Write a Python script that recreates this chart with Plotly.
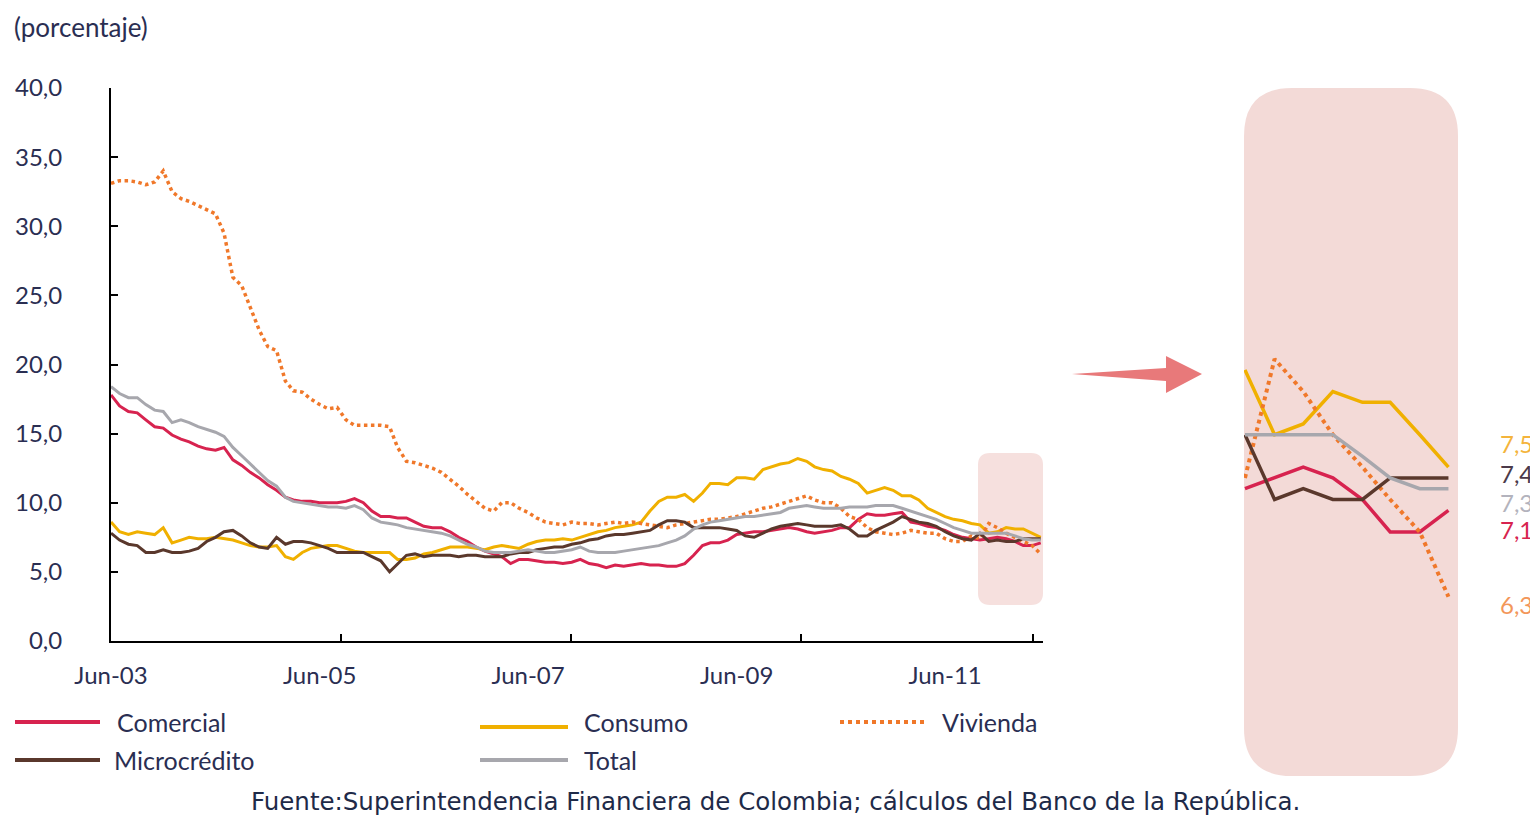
import pandas as pd
import plotly.graph_objects as go

# page body has an 8px margin: the figure is drawn from (8, 8)
OFF = 8
W, H = 1538 - OFF, 816 - OFF

# ---------------- data ----------------
dates = pd.date_range("2003-06-01", periods=108, freq="MS")
tick_dates = ["2003-06-01", "2005-06-01", "2007-06-01", "2009-06-01", "2011-06-01"]
tick_labels = ["Jun-03", "Jun-05", "Jun-07", "Jun-09", "Jun-11"]
tick_mark_dates = ["2005-08-15", "2007-10-29", "2010-01-12", "2012-04-04"]
y_ticks = [0, 5, 10, 15, 20, 25, 30, 35, 40]
y_tick_labels = ["0,0", "5,0", "10,0", "15,0", "20,0", "25,0", "30,0", "35,0", "40,0"]

comercial = [
    17.8, 17.0, 16.6, 16.5, 16.0, 15.5, 15.4, 14.9, 14.6, 14.4,
    14.1, 13.9, 13.8, 14.0, 13.1, 12.7, 12.2, 11.8, 11.3, 10.9,
    10.4, 10.2, 10.1, 10.1, 10.0, 10.0, 10.0, 10.1, 10.3, 10.0,
    9.4, 9.0, 9.0, 8.9, 8.9, 8.6, 8.3, 8.2, 8.2, 7.9,
    7.5, 7.2, 6.8, 6.5, 6.3, 6.1, 5.6, 5.9, 5.9, 5.8,
    5.7, 5.7, 5.6, 5.7, 5.9, 5.6, 5.5, 5.3, 5.5, 5.4,
    5.5, 5.6, 5.5, 5.5, 5.4, 5.4, 5.6, 6.2, 6.9, 7.1,
    7.1, 7.3, 7.7, 7.8, 7.9, 7.9, 8.0, 8.1, 8.2, 8.1,
    7.9, 7.8, 7.9, 8.0, 8.2, 8.2, 8.8, 9.2, 9.1, 9.1,
    9.2, 9.3, 8.6, 8.5, 8.3, 8.2, 8.0, 7.7, 7.5, 7.4,
    7.3, 7.4, 7.5, 7.4, 7.2, 6.9, 6.9, 7.1,
]
consumo = [
    8.6, 7.9, 7.7, 7.9, 7.8, 7.7, 8.2, 7.1, 7.3, 7.5,
    7.4, 7.4, 7.5, 7.4, 7.3, 7.1, 6.9, 6.8, 6.8, 6.9,
    6.1, 5.9, 6.4, 6.7, 6.8, 6.9, 6.9, 6.7, 6.5, 6.4,
    6.4, 6.4, 6.4, 5.9, 5.9, 6.0, 6.3, 6.4, 6.6, 6.8,
    6.8, 6.8, 6.7, 6.6, 6.8, 6.9, 6.8, 6.7, 7.0, 7.2,
    7.3, 7.3, 7.4, 7.3, 7.5, 7.7, 7.9, 8.0, 8.2, 8.3,
    8.4, 8.6, 9.4, 10.1, 10.4, 10.4, 10.6, 10.1, 10.7, 11.4,
    11.4, 11.3, 11.8, 11.8, 11.7, 12.4, 12.6, 12.8, 12.9, 13.2,
    13.0, 12.6, 12.4, 12.3, 11.9, 11.7, 11.4, 10.7, 10.9, 11.1,
    10.9, 10.5, 10.5, 10.2, 9.6, 9.3, 9.0, 8.8, 8.7, 8.5,
    8.4, 7.8, 7.9, 8.2, 8.1, 8.1, 7.8, 7.5,
]
vivienda = [
    33.1, 33.3, 33.3, 33.2, 33.0, 33.2, 34.0, 32.5, 32.0, 31.8,
    31.5, 31.2, 30.9, 29.5, 26.3, 25.7, 24.2, 22.5, 21.3, 21.0,
    18.8, 18.1, 18.0, 17.5, 17.1, 16.8, 16.9, 16.0, 15.6, 15.6,
    15.6, 15.6, 15.5, 14.0, 13.0, 12.9, 12.7, 12.5, 12.2, 11.7,
    11.2, 10.6, 10.1, 9.6, 9.4, 10.0, 10.0, 9.6, 9.3, 8.9,
    8.6, 8.5, 8.4, 8.6, 8.5, 8.5, 8.4, 8.5, 8.6, 8.5,
    8.6, 8.5, 8.4, 8.3, 8.2, 8.4, 8.5, 8.6, 8.7, 8.8,
    8.8, 8.9, 9.0, 9.2, 9.4, 9.6, 9.7, 9.9, 10.1, 10.3,
    10.5, 10.2, 10.0, 10.0, 9.6, 9.0, 8.8, 8.2, 7.9, 7.8,
    7.7, 7.8, 8.0, 7.9, 7.8, 7.8, 7.4, 7.2, 7.2, 7.6,
    7.4, 8.5, 8.2, 7.8, 7.5, 7.2, 6.9, 6.3,
]
microcredito = [
    7.8, 7.3, 7.0, 6.9, 6.4, 6.4, 6.6, 6.4, 6.4, 6.5,
    6.7, 7.2, 7.5, 7.9, 8.0, 7.6, 7.1, 6.8, 6.7, 7.5,
    7.0, 7.2, 7.2, 7.1, 6.9, 6.7, 6.4, 6.4, 6.4, 6.4,
    6.1, 5.8, 5.0, 5.6, 6.2, 6.3, 6.1, 6.2, 6.2, 6.2,
    6.1, 6.2, 6.2, 6.1, 6.1, 6.1, 6.3, 6.4, 6.4, 6.6,
    6.7, 6.8, 6.8, 7.0, 7.1, 7.3, 7.4, 7.6, 7.7, 7.7,
    7.8, 7.9, 8.0, 8.4, 8.7, 8.7, 8.6, 8.2, 8.2, 8.2,
    8.2, 8.1, 8.0, 7.6, 7.5, 7.8, 8.1, 8.3, 8.4, 8.5,
    8.4, 8.3, 8.3, 8.3, 8.4, 8.1, 7.6, 7.6, 8.0, 8.3,
    8.6, 9.0, 8.8, 8.6, 8.5, 8.3, 7.9, 7.6, 7.4, 7.3,
    7.8, 7.2, 7.3, 7.2, 7.2, 7.4, 7.4, 7.4,
]
total = [
    18.4, 17.9, 17.6, 17.6, 17.1, 16.7, 16.6, 15.8, 16.0, 15.8,
    15.5, 15.3, 15.1, 14.8, 14.0, 13.4, 12.8, 12.2, 11.6, 11.2,
    10.4, 10.1, 10.0, 9.9, 9.8, 9.7, 9.7, 9.6, 9.8, 9.5,
    8.9, 8.6, 8.5, 8.4, 8.2, 8.1, 8.0, 7.9, 7.8, 7.6,
    7.3, 7.0, 6.8, 6.5, 6.4, 6.4, 6.4, 6.5, 6.6, 6.5,
    6.4, 6.4, 6.5, 6.6, 6.8, 6.5, 6.4, 6.4, 6.4, 6.5,
    6.6, 6.7, 6.8, 6.9, 7.1, 7.3, 7.6, 8.1, 8.4, 8.6,
    8.7, 8.8, 8.9, 9.0, 9.0, 9.1, 9.2, 9.3, 9.6, 9.7,
    9.8, 9.7, 9.6, 9.6, 9.6, 9.7, 9.7, 9.7, 9.8, 9.8,
    9.8, 9.6, 9.4, 9.2, 9.0, 8.8, 8.5, 8.2, 8.0, 7.8,
    7.8, 7.8, 7.8, 7.8, 7.6, 7.4, 7.3, 7.3,
]
n_zoom = 8

# ---------------- styles ----------------
C_COM, C_CON, C_VIV, C_MIC, C_TOT = "#d7234f", "#f0b000", "#f0782a", "#5a382c", "#a7a7ad"
TXT = "#2a2e52"
FONT = "Lato"

series = [
    ("Comercial", comercial, C_COM, "solid", 3),
    ("Consumo", consumo, C_CON, "solid", 3),
    ("Vivienda", vivienda, C_VIV, "dot", 3.5),
    ("Microcrédito", microcredito, C_MIC, "solid", 3),
    ("Total", total, C_TOT, "solid", 3),
]


def fx(x):
    return (x - OFF) / W


def fy(y):
    return 1 - (y - OFF) / H


def rrect(x0, y0, x1, y1, r):
    pts = lambda x, y: f"{fx(x):.5f},{fy(y):.5f}"
    return (
        f"M {pts(x0 + r, y0)} L {pts(x1 - r, y0)} Q {pts(x1, y0)} {pts(x1, y0 + r)} "
        f"L {pts(x1, y1 - r)} Q {pts(x1, y1)} {pts(x1 - r, y1)} "
        f"L {pts(x0 + r, y1)} Q {pts(x0, y1)} {pts(x0, y1 - r)} "
        f"L {pts(x0, y0 + r)} Q {pts(x0, y0)} {pts(x0 + r, y0)} Z"
    )


fig = go.Figure()
for name, vals, col, dash, w in series:
    fig.add_trace(go.Scatter(x=dates, y=vals, name=name, mode="lines",
                             line=dict(color=col, width=w, dash=dash),
                             xaxis="x", yaxis="y", showlegend=False))
for name, vals, col, dash, w in series:
    fig.add_trace(go.Scatter(x=dates[-n_zoom:], y=vals[-n_zoom:], name=name, mode="lines",
                             line=dict(color=col, width=w + 0.5, dash=dash),
                             xaxis="x2", yaxis="y2", showlegend=False))

shapes = []
# highlight boxes
shapes.append(dict(type="path", xref="paper", yref="paper", path=rrect(978, 453, 1043, 605, 12),
                   fillcolor="#f6e0de", line=dict(width=0), layer="below"))
shapes.append(dict(type="path", xref="paper", yref="paper", path=rrect(1244, 88, 1458, 776, 48),
                   fillcolor="#f3dad7", line=dict(width=0), layer="below"))
# arrow
arrow = [(1072, 374), (1166, 368), (1166, 356), (1202, 374), (1166, 393), (1166, 381)]
apath = "M " + " L ".join(f"{fx(x):.5f},{fy(y):.5f}" for x, y in arrow) + " Z"
shapes.append(dict(type="path", xref="paper", yref="paper", path=apath,
                   fillcolor="#e8797a", line=dict(width=0)))

# manual legend
legend_items = [
    ("Comercial", C_COM, "solid", 15, 100, 722, 115),
    ("Consumo", C_CON, "solid", 480, 568, 727, 582),
    ("Vivienda", C_VIV, "dot", 840, 925, 722, 940),
    ("Microcrédito", C_MIC, "solid", 15, 100, 760, 112),
    ("Total", C_TOT, "solid", 480, 568, 760, 582),
]
annotations = []
for name, col, dash, x0, x1, y, tx in legend_items:
    shapes.append(dict(type="line", xref="paper", yref="paper", x0=fx(x0), x1=fx(x1), y0=fy(y), y1=fy(y),
                       line=dict(color=col, width=4, dash=dash)))
    annotations.append(dict(xref="paper", yref="paper", x=fx(tx), y=fy(y if name != "Consumo" else 722),
                            text=name, showarrow=False, xanchor="left", yanchor="middle",
                            font=dict(family=FONT, size=25, color=TXT)))

# end-value labels
end_labels = [
    (consumo[-1], "#f4b43c", 443),
    (microcredito[-1], "#4b3a4a", 474),
    (total[-1], "#b3b3bd", 502),
    (comercial[-1], "#d7234f", 529),
    (vivienda[-1], "#f3975a", 604),
]
for v, col, y in end_labels:
    annotations.append(dict(xref="paper", yref="paper", x=fx(1498), y=fy(y),
                            text=f"{v:.1f}".replace(".", ","), showarrow=False,
                            xanchor="left", yanchor="middle",
                            font=dict(family=FONT, size=24, color=col)))

annotations.append(dict(xref="paper", yref="paper", x=fx(12), y=fy(27), text="(porcentaje)",
                        showarrow=False, xanchor="left", yanchor="middle",
                        font=dict(family=FONT, size=26, color=TXT)))
annotations.append(dict(xref="paper", yref="paper", x=fx(775), y=fy(801),
                        text="Fuente:Superintendencia Financiera de Colombia; cálculos del Banco de la República.",
                        showarrow=False, xanchor="center", yanchor="middle",
                        font=dict(family="DejaVu Sans", size=24.5, color="#1e2a48")))

fig.update_layout(
    width=W, height=H,
    margin=dict(l=0, r=0, t=0, b=0, autoexpand=False),
    paper_bgcolor="white", plot_bgcolor="rgba(0,0,0,0)",
    showlegend=False,
    shapes=shapes, annotations=annotations,
    xaxis=dict(domain=[fx(111), fx(1043)], range=["2003-06-01", "2012-05-09"],
               tickvals=tick_dates, ticktext=tick_labels, ticks="", ticklen=0,
               minor=dict(tickvals=tick_mark_dates, ticks="inside", ticklen=7, tickwidth=2,
                          tickcolor="black", showgrid=False),
               showline=True, linecolor="black", linewidth=2,
               showgrid=False, zeroline=False, ticklabelstandoff=12, automargin=False,
               tickfont=dict(family=FONT, size=24, color=TXT)),
    yaxis=dict(domain=[fy(641), fy(88)], range=[0, 40], tickvals=y_ticks, ticktext=y_tick_labels,
               ticks="inside", ticklen=7, tickwidth=2, tickcolor="black",
               showline=True, linecolor="black", linewidth=2, showgrid=False, zeroline=False,
               ticklabelstandoff=42, automargin=False,
               tickfont=dict(family=FONT, size=24, color=TXT)),
    xaxis2=dict(domain=[fx(1244), fx(1458)], range=["2011-09-30", "2012-05-11"], visible=False,
                anchor="y2", automargin=False),
    yaxis2=dict(domain=[fy(776), fy(88)], range=[4.64, 11.01], visible=False, anchor="x2",
                automargin=False),
)

fig.write_html("out.html")
